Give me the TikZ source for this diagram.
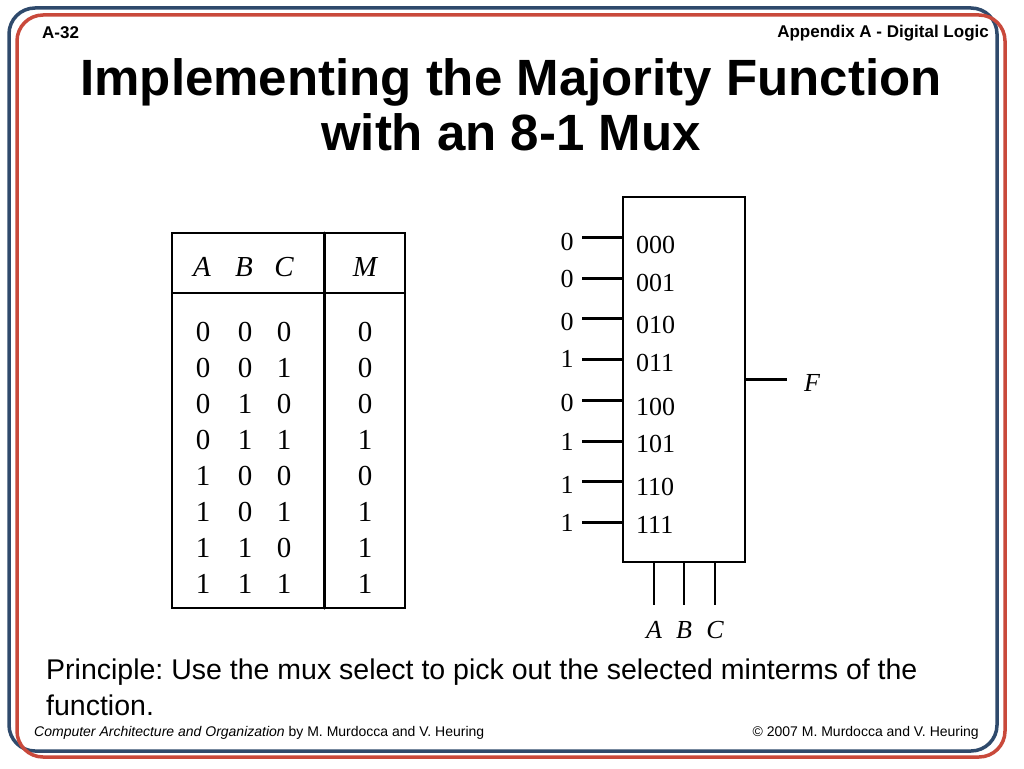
\documentclass[tikz,border=0pt]{standalone}
\usepackage{fontspec}
\setmainfont{Liberation Sans}
\newfontfamily\tabfont{Liberation Serif}
\usepackage{tikz}
\usepackage{xcolor}
\definecolor{frameblue}{HTML}{2F4A6C}
\definecolor{framered}{HTML}{C9493B}
\frenchspacing

\begin{document}
\begin{tikzpicture}[x=1pt,y=-1pt,line cap=round,
  tab/.style={font=\tabfont\fontsize{29}{32}\selectfont,inner sep=0pt},
  tabit/.style={font=\tabfont\itshape\fontsize{29}{32}\selectfont,inner sep=0pt},
  mx/.style={font=\tabfont\fontsize{26}{28}\selectfont,inner sep=0pt},
  mxit/.style={font=\tabfont\itshape\fontsize{26}{28}\selectfont,inner sep=0pt},
  wire/.style={line width=3pt,line cap=butt},
  sel/.style={line width=2.2pt,line cap=butt}]
\useasboundingbox[fill=white] (0,0) rectangle (1024,768);
% slide frame
\draw[frameblue,line width=3.5pt,rounded corners=26pt] (9,8) rectangle (997,751);
\draw[framered,line width=3.5pt,rounded corners=26pt] (17,15) rectangle (1005,757);
% header and title
\node[anchor=west,font=\bfseries\fontsize{17}{19}\selectfont,inner sep=0pt] (pg) at (42,33) {A-32};
\node[anchor=east,font=\bfseries\fontsize{17}{19}\selectfont,inner sep=0pt] (chap) at (989,33) {Appendix A - Digital Logic};
\node[font=\bfseries\fontsize{51}{55}\selectfont,align=center,inner sep=0pt] (title) at (511,105)
  {Implementing the Majority Function\\with an 8-1 Mux};
% truth table
\draw[line width=2pt] (172,233) rectangle (405,608);
\draw[line width=2pt] (172,293) -- (405,293);
\draw[line width=3pt] (324,233) -- (324,608);
\node[tabit] (hA) at (202,267) {A};
\node[tabit] (hB) at (244,267) {B};
\node[tabit] (hC) at (284,267) {C};
\node[tabit] (hM) at (365,267) {M};
\node[tab] (a0) at (203,332) {0}; \node[tab] (b0) at (245,332) {0}; \node[tab] (c0) at (284,332) {0}; \node[tab] (m0) at (365,332) {0};
\node[tab] (a1) at (203,368) {0}; \node[tab] (b1) at (245,368) {0}; \node[tab] (c1) at (284,368) {1}; \node[tab] (m1) at (365,368) {0};
\node[tab] (a2) at (203,404) {0}; \node[tab] (b2) at (245,404) {1}; \node[tab] (c2) at (284,404) {0}; \node[tab] (m2) at (365,404) {0};
\node[tab] (a3) at (203,440) {0}; \node[tab] (b3) at (245,440) {1}; \node[tab] (c3) at (284,440) {1}; \node[tab] (m3) at (365,440) {1};
\node[tab] (a4) at (203,476) {1}; \node[tab] (b4) at (245,476) {0}; \node[tab] (c4) at (284,476) {0}; \node[tab] (m4) at (365,476) {0};
\node[tab] (a5) at (203,512) {1}; \node[tab] (b5) at (245,512) {0}; \node[tab] (c5) at (284,512) {1}; \node[tab] (m5) at (365,512) {1};
\node[tab] (a6) at (203,548) {1}; \node[tab] (b6) at (245,548) {1}; \node[tab] (c6) at (284,548) {0}; \node[tab] (m6) at (365,548) {1};
\node[tab] (a7) at (203,584) {1}; \node[tab] (b7) at (245,584) {1}; \node[tab] (c7) at (284,584) {1}; \node[tab] (m7) at (365,584) {1};
% multiplexer
\node[draw,line width=2pt,minimum width=122,minimum height=365,inner sep=0pt] (mux) at (684,379.5) {};
\coordinate (in0) at (582,237);
\coordinate (in1) at (582,278);
\coordinate (in2) at (582,318);
\coordinate (in3) at (582,359);
\coordinate (in4) at (582,400);
\coordinate (in5) at (582,441);
\coordinate (in6) at (582,481);
\coordinate (in7) at (582,522);
\draw[wire] (in0) -- (in0 -| mux.west);
\draw[wire] (in1) -- (in1 -| mux.west);
\draw[wire] (in2) -- (in2 -| mux.west);
\draw[wire] (in3) -- (in3 -| mux.west);
\draw[wire] (in4) -- (in4 -| mux.west);
\draw[wire] (in5) -- (in5 -| mux.west);
\draw[wire] (in6) -- (in6 -| mux.west);
\draw[wire] (in7) -- (in7 -| mux.west);
\node[mx] (v0) at (567,242) {0};
\node[mx] (v1) at (567,279) {0};
\node[mx] (v2) at (567,322) {0};
\node[mx] (v3) at (567,359) {1};
\node[mx] (v4) at (567,403) {0};
\node[mx] (v5) at (567,442) {1};
\node[mx] (v6) at (567,485) {1};
\node[mx] (v7) at (567,523) {1};
\node[mx,anchor=west] (s0) at (636,245) {000};
\node[mx,anchor=west] (s1) at (636,283) {001};
\node[mx,anchor=west] (s2) at (636,325) {010};
\node[mx,anchor=west] (s3) at (636,363) {011};
\node[mx,anchor=west] (s4) at (636,407) {100};
\node[mx,anchor=west] (s5) at (636,444) {101};
\node[mx,anchor=west] (s6) at (636,487) {110};
\node[mx,anchor=west] (s7) at (636,525) {111};
\coordinate (out) at (787,379.5);
\draw[sel] (mux.east) -- (out);
\node[mxit] (fout) at (812,383) {F};
\coordinate (selA) at (654,605);
\coordinate (selB) at (684,605);
\coordinate (selC) at (715,605);
\draw[sel] (selA |- mux.south) -- (selA);
\draw[sel] (selB |- mux.south) -- (selB);
\draw[sel] (selC |- mux.south) -- (selC);
\node[mxit] (lA) at (654,630) {A};
\node[mxit] (lB) at (684,630) {B};
\node[mxit] (lC) at (715,630) {C};
% note and footer
\node[anchor=north west,align=left,font=\fontsize{28.5}{36}\selectfont,inner sep=0pt] (note) at (46,659)
  {Principle: Use the mux select to pick out the selected minterms of the\\function.};
\node[anchor=west,font=\fontsize{14}{16}\selectfont,inner sep=0pt] (book) at (34,733)
  {\textit{Computer Architecture and Organization} by M. Murdocca and V. Heuring};
\node[anchor=east,font=\fontsize{14}{16}\selectfont,inner sep=0pt] (copy) at (979,733)
  {\textcopyright{} 2007 M. Murdocca and V. Heuring};
\end{tikzpicture}
\end{document}
